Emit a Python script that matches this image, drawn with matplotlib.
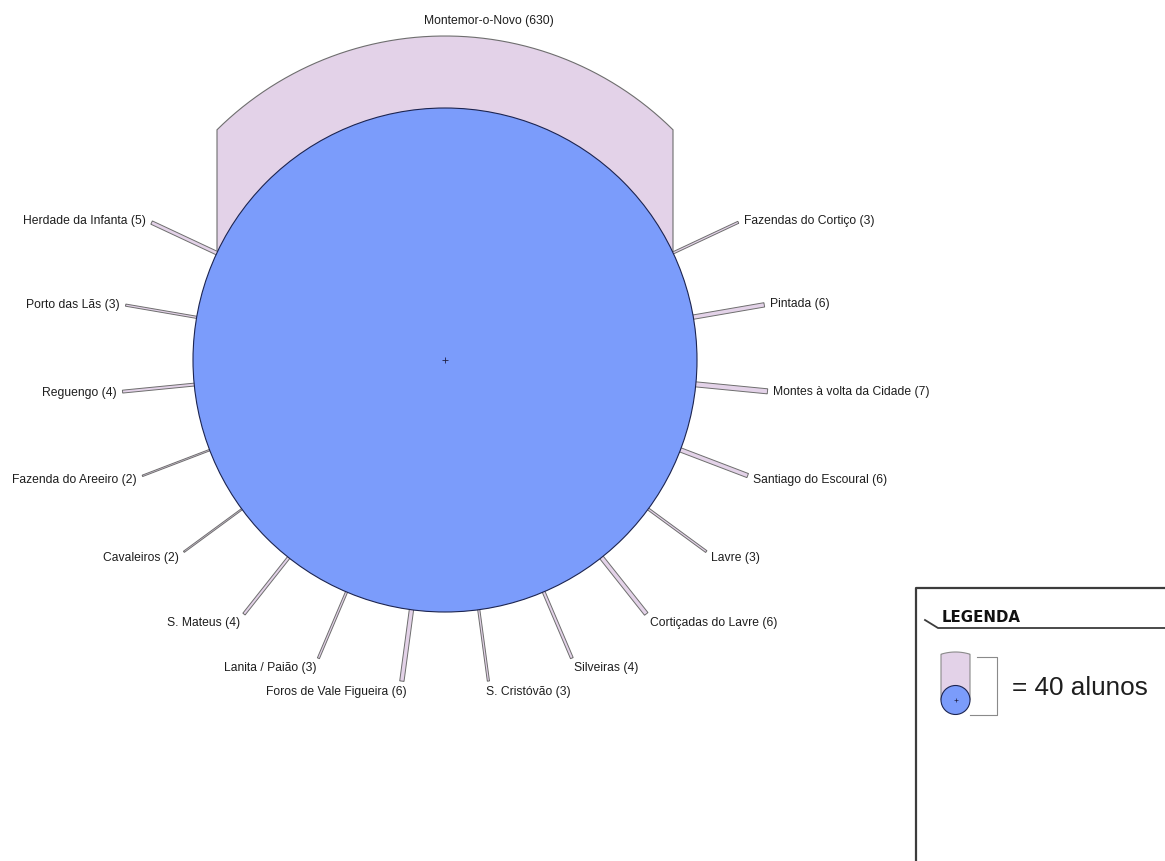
import numpy as np
import matplotlib.pyplot as plt
from matplotlib.patches import Polygon, Circle

# alunos por localidade (Montemor-o-Novo no topo, restantes no sentido horário)
main_name = "Montemor-o-Novo"
main_value = 630
places = ["Fazendas do Cortiço", "Pintada", "Montes à volta da Cidade",
          "Santiago do Escoural", "Lavre", "Cortiçadas do Lavre", "Silveiras",
          "S. Cristóvão", "Foros de Vale Figueira", "Lanita / Paião", "S. Mateus",
          "Cavaleiros", "Fazenda do Areeiro", "Reguengo", "Porto das Lãs",
          "Herdade da Infanta"]
students = [3, 6, 7, 6, 3, 6, 4, 3, 6, 3, 4, 2, 2, 4, 3, 5]
legend_value = 40

W, H = 1165, 861
CX, CY = 445, 501          # centre (pixel coords, y up)
R_IN, R_OUT = 252, 324
PX_PER = 456 / main_value  # bar width per student

LILAC = "#e3d2e8"
BLUE = "#7b9cfb"
TXT = "#1e1e1e"
FS = 8.7

plt.rcParams['font.family'] = ['Liberation Sans', 'DejaVu Sans']

fig = plt.figure(figsize=(W / 100, H / 100), dpi=100)
ax = fig.add_axes([0, 0, 1, 1])
ax.set_xlim(0, W)
ax.set_ylim(0, H)
ax.set_aspect('equal')
ax.axis('off')


def bar_poly(cx, cy, theta, w, r):
    h = w / 2
    a = np.arcsin(h / r)
    ux, uy = np.cos(theta), np.sin(theta)
    nx, ny = -uy, ux
    arc = np.linspace(theta - a, theta + a, 60)
    pts = [(cx - h * nx, cy - h * ny)]
    pts += [(cx + r * np.cos(t), cy + r * np.sin(t)) for t in arc]
    pts.append((cx + h * nx, cy + h * ny))
    return pts


# big bar
ax.add_patch(Polygon(bar_poly(CX, CY, np.pi / 2, main_value * PX_PER, R_OUT),
                     closed=True, fc=LILAC, ec="#6e6e6e", lw=0.8, zorder=2))
ax.text(489, H - 21, f"{main_name} ({main_value})", ha='center', va='center',
        fontsize=FS, color=TXT)

angles = np.deg2rad(np.linspace(25.15, 25.15 - 15.35 * 15, len(places)))
for name, val, th in zip(places, students, angles):
    ax.add_patch(Polygon(bar_poly(CX, CY, th, val * PX_PER, R_OUT), closed=True,
                         fc=LILAC, ec="#6e6e6e", lw=0.7, zorder=2))
    ex = CX + R_OUT * np.cos(th)
    ey = CY + R_OUT * np.sin(th)
    s, c = np.sin(th), np.cos(th)
    dy = 11 * s if s < 0 else 3 * s
    tx = ex + 6 * c
    ha = 'left' if c > 0 else 'right'
    if abs(c) < 0.2:
        tx = ex + (-2 if c > 0 else 5)
    ax.text(tx, ey + dy, f"{name} ({val})", ha=ha, va='center', fontsize=FS,
            color=TXT)

ax.add_patch(Circle((CX, CY), R_IN, fc=BLUE, ec="#1c2450", lw=0.8, zorder=3))
ax.plot([CX], [CY], marker='+', ms=4, mew=0.6, color="#222244", zorder=4)

# legend box
ax.plot([916, 916, W + 5], [-5, H - 588, H - 588], color="#3c3c3c", lw=1.6,
        zorder=5, clip_on=False)
ax.plot([925, 938, W + 5], [H - 620, H - 628, H - 628], color="#3c3c3c", lw=1.3,
        zorder=5, clip_on=False)
ax.text(942, H - 618, "LEGENDA", ha='left', va='center', fontsize=10.8,
        fontweight='heavy', family=['DejaVu Sans'], color="#111111")

lx, ly, lr = 955.5, H - 700, 14.5
ax.add_patch(Polygon(bar_poly(lx, ly, np.pi / 2, 2 * lr, 48), closed=True,
                     fc=LILAC, ec="#8a8a8a", lw=0.8, zorder=5))
ax.add_patch(Circle((lx, ly), lr, fc=BLUE, ec="#1c2450", lw=0.8, zorder=6))
ax.plot([lx], [ly], marker='+', ms=3, mew=0.5, color="#222244", zorder=7)
ax.plot([970, 997, 997, 977], [H - 715, H - 715, H - 657, H - 657],
        color="#8a8a8a", lw=0.8, zorder=5)
ax.text(1012, H - 688, f"= {legend_value} alunos", ha='left', va='center',
        fontsize=18.8, color=TXT)

fig.savefig("out.png", dpi=100)
